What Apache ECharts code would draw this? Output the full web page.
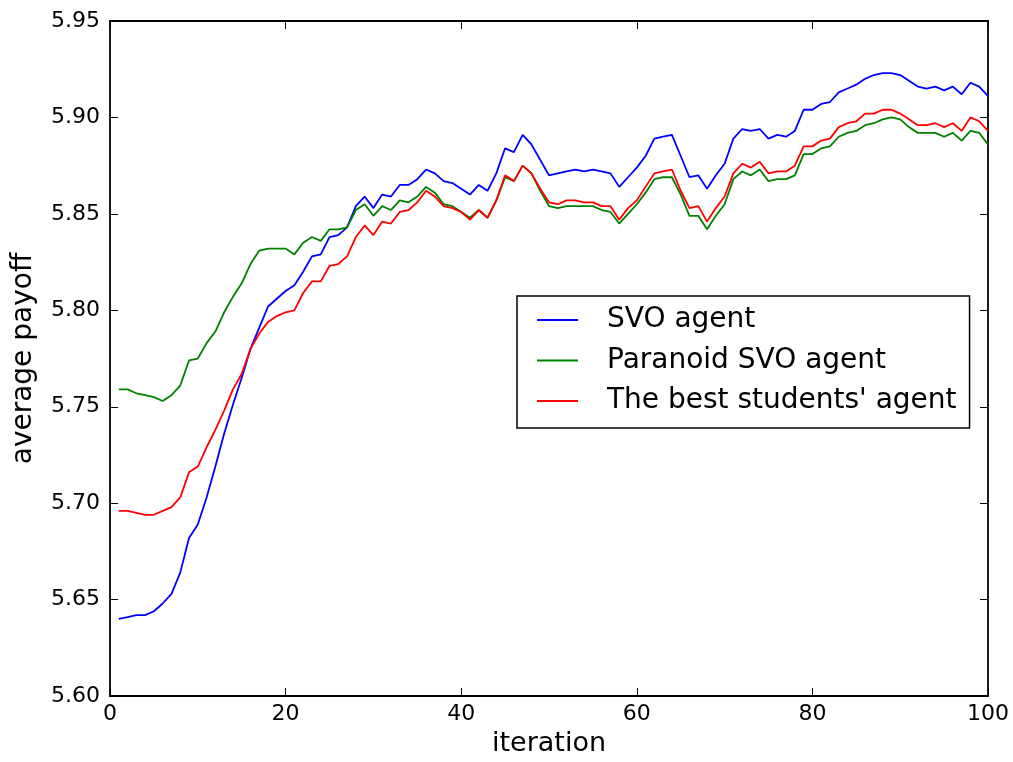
<!DOCTYPE html>
<html>
<head>
<meta charset="utf-8">
<script src="https://cdn.jsdelivr.net/npm/echarts@6/dist/echarts.min.js"></script>
<style>html,body{margin:0;padding:0;background:#fff;}#c{width:1013px;height:762px;}</style>
</head>
<body>
<div id="c"></div>
<script>
const iterations = Array.from({length: 100}, (_, k) => k + 1);
const svoAgent = [5.640,5.641,5.642,5.642,5.644,5.648,5.653,5.664,5.682,5.689,
5.703,5.719,5.736,5.751,5.765,5.780,5.791,5.802,5.806,5.810,
5.813,5.820,5.828,5.829,5.838,5.839,5.843,5.854,5.859,5.853,
5.860,5.859,5.865,5.865,5.868,5.873,5.871,5.867,5.866,5.863,
5.860,5.865,5.862,5.871,5.884,5.882,5.891,5.886,5.878,5.870,
5.871,5.872,5.873,5.872,5.873,5.872,5.871,5.864,5.869,5.874,
5.880,5.889,5.890,5.891,5.880,5.869,5.870,5.863,5.870,5.876,
5.889,5.894,5.893,5.894,5.889,5.891,5.890,5.893,5.904,5.904,
5.907,5.908,5.913,5.915,5.917,5.920,5.922,5.923,5.923,5.922,
5.919,5.916,5.915,5.916,5.914,5.916,5.912,5.918,5.916,5.911];
const paranoidAgent = [5.759,5.759,5.757,5.756,5.755,5.753,5.756,5.761,5.774,5.775,
5.783,5.789,5.799,5.807,5.814,5.824,5.831,5.832,5.832,5.832,
5.829,5.835,5.838,5.836,5.842,5.842,5.843,5.852,5.855,5.849,
5.854,5.852,5.857,5.856,5.859,5.864,5.861,5.855,5.854,5.851,
5.848,5.852,5.848,5.857,5.869,5.867,5.875,5.871,5.862,5.854,
5.853,5.854,5.854,5.854,5.854,5.852,5.851,5.845,5.850,5.855,
5.861,5.868,5.869,5.869,5.860,5.849,5.849,5.842,5.849,5.855,
5.868,5.872,5.870,5.873,5.867,5.868,5.868,5.870,5.881,5.881,
5.884,5.885,5.890,5.892,5.893,5.896,5.897,5.899,5.900,5.899,
5.895,5.892,5.892,5.892,5.890,5.892,5.888,5.893,5.892,5.886];
const studentsAgent = [5.696,5.696,5.695,5.694,5.694,5.696,5.698,5.703,5.716,5.719,
5.729,5.738,5.748,5.759,5.767,5.780,5.788,5.794,5.797,5.799,
5.800,5.809,5.815,5.815,5.823,5.824,5.828,5.838,5.844,5.839,
5.846,5.845,5.851,5.852,5.856,5.862,5.859,5.854,5.853,5.851,
5.847,5.852,5.848,5.857,5.870,5.867,5.875,5.871,5.863,5.856,
5.855,5.857,5.857,5.856,5.856,5.854,5.854,5.847,5.853,5.857,
5.864,5.871,5.872,5.873,5.862,5.853,5.854,5.846,5.853,5.859,
5.871,5.876,5.874,5.877,5.871,5.872,5.872,5.875,5.885,5.885,
5.888,5.889,5.895,5.897,5.898,5.902,5.902,5.904,5.904,5.902,
5.899,5.896,5.896,5.897,5.895,5.897,5.893,5.900,5.898,5.893];
const seriesNames = ["SVO agent", "Paranoid SVO agent", "The best students' agent"];
const seriesColors = ["#0000ff", "#008000", "#ff0000"];
const xTitle = "iteration";
const yTitle = "average payoff";

const FONT = "DejaVu Sans";
const chart = echarts.init(document.getElementById('c'), null, {renderer: 'canvas'});
const pair = (ys) => iterations.map((x, k) => [x, ys[k]]);
const allData = [svoAgent, paranoidAgent, studentsAgent];

const frameAxis = {
  axisLine: {show: true, onZero: false, lineStyle: {color: '#000', width: 1.8}},
  axisTick: {show: true, inside: true, length: 8, lineStyle: {color: '#000', width: 1}},
  splitLine: {show: false}
};

chart.setOption({
  animation: false,
  backgroundColor: '#fff',
  grid: {left: 110, right: 25, top: 21, bottom: 60, containLabel: false},
  legend: {
    orient: 'vertical', left: 517, top: 296,
    data: seriesNames,
    icon: 'rect',
    itemWidth: 41, itemHeight: 2, itemGap: 8.5,
    padding: [8, 13, 11, 20],
    borderColor: '#000', borderWidth: 1.5, borderRadius: 0,
    backgroundColor: '#fff',
    textStyle: {fontFamily: FONT, fontSize: 28, color: '#000', lineHeight: 32, padding: [0, 0, 0, 24]}
  },
  xAxis: [
    Object.assign({}, frameAxis, {
      type: 'value', min: 0, max: 100, interval: 20, position: 'bottom',
      name: xTitle, nameLocation: 'middle', nameGap: 31,
      nameTextStyle: {fontFamily: FONT, fontSize: 27, color: '#000'},
      axisLabel: {fontFamily: FONT, fontSize: 22, color: '#000', margin: 7}
    }),
    Object.assign({}, frameAxis, {
      type: 'value', min: 0, max: 100, interval: 20, position: 'top',
      axisLabel: {show: false}
    })
  ],
  yAxis: [
    Object.assign({}, frameAxis, {
      type: 'value', min: 5.60, max: 5.95, interval: 0.05, position: 'left',
      name: yTitle, nameLocation: 'middle', nameGap: 72,
      nameTextStyle: {fontFamily: FONT, fontSize: 28, color: '#000'},
      axisLabel: {fontFamily: FONT, fontSize: 22, color: '#000', margin: 10,
        formatter: v => v.toFixed(2)}
    }),
    Object.assign({}, frameAxis, {
      type: 'value', min: 5.60, max: 5.95, interval: 0.05, position: 'right',
      axisLabel: {show: false}
    })
  ],
  series: seriesNames.map((n, k) => ({
    name: n, type: 'line', data: pair(allData[k]),
    xAxisIndex: 0, yAxisIndex: 0,
    symbol: 'none', showSymbol: false,
    lineStyle: {color: seriesColors[k], width: 1.8},
    itemStyle: {color: seriesColors[k]},
    z: 3 + k
  }))
});
</script>
</body>
</html>
